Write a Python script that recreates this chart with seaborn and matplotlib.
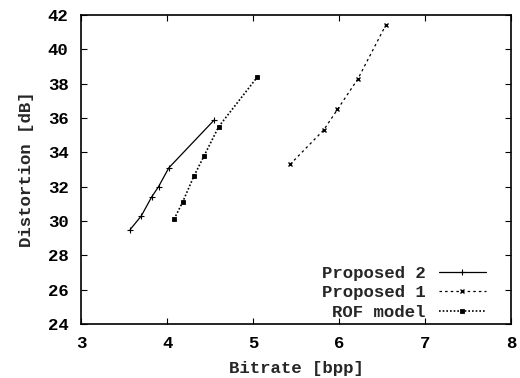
import matplotlib
matplotlib.use("Agg")
import matplotlib.pyplot as plt
import seaborn as sns

p2_x = [3.57, 3.70, 3.82, 3.90, 4.02, 4.55]
p2_y = [29.5, 30.3, 31.4, 32.0, 33.1, 35.9]
p1_x = [5.43, 5.82, 5.98, 6.22, 6.54]
p1_y = [33.3, 35.3, 36.5, 38.3, 41.4]
rof_x = [4.08, 4.18, 4.31, 4.43, 4.60, 5.05]
rof_y = [30.1, 31.1, 32.6, 33.8, 35.5, 38.4]

x_ticks = [3, 4, 5, 6, 7, 8]
y_ticks = [24, 26, 28, 30, 32, 34, 36, 38, 40, 42]

sns.set_style("ticks")
plt.rcParams['font.family'] = ['Liberation Mono', 'DejaVu Sans Mono']
plt.rcParams['font.weight'] = 'bold'

FS = 12.5

fig = plt.figure(figsize=(5.2, 3.78), dpi=100)
ax = fig.add_axes([0.156, 0.143, 0.827, 0.817])

sns.lineplot(x=p2_x, y=p2_y, ax=ax, color='black', linewidth=0.9,
             linestyle='-', marker='+', markersize=4.5, markeredgewidth=0.8,
             markeredgecolor='black', label='Proposed 2', sort=False)
sns.lineplot(x=p1_x, y=p1_y, ax=ax, color='black', linewidth=0.9,
             linestyle=(0, (2, 2.5)), marker='x', markersize=3.5, markeredgewidth=1.0,
             markeredgecolor='black', label='Proposed 1', sort=False)
sns.lineplot(x=rof_x, y=rof_y, ax=ax, color='black', linewidth=1.2,
             linestyle=(0, (1, 1.2)), marker='s', markersize=3.2,
             markeredgewidth=0.6, markeredgecolor='black', label='ROF model', sort=False)

ax.set_xlim(3, 8)
ax.set_ylim(24, 42)
ax.set_xticks(x_ticks)
ax.set_yticks(y_ticks)
ax.tick_params(direction='in', top=True, right=True, length=4, width=0.8,
               labelsize=FS, pad=9, colors='black')
for s in ax.spines.values():
    s.set_linewidth(1.2)
    s.set_color('black')
ax.set_xlabel('Bitrate [bpp]', fontsize=FS, labelpad=7, fontweight='bold')
ax.set_ylabel('Distortion [dB]', fontsize=FS, labelpad=10, fontweight='bold')

leg = ax.legend(loc='lower right', markerfirst=False, frameon=False,
                prop={'size': FS, 'weight': 'bold'}, handlelength=2.7,
                handletextpad=0.75, labelspacing=0.24, borderaxespad=0.2,
                bbox_to_anchor=(0.965, -0.02))

fig.savefig('out.png', dpi=100)
